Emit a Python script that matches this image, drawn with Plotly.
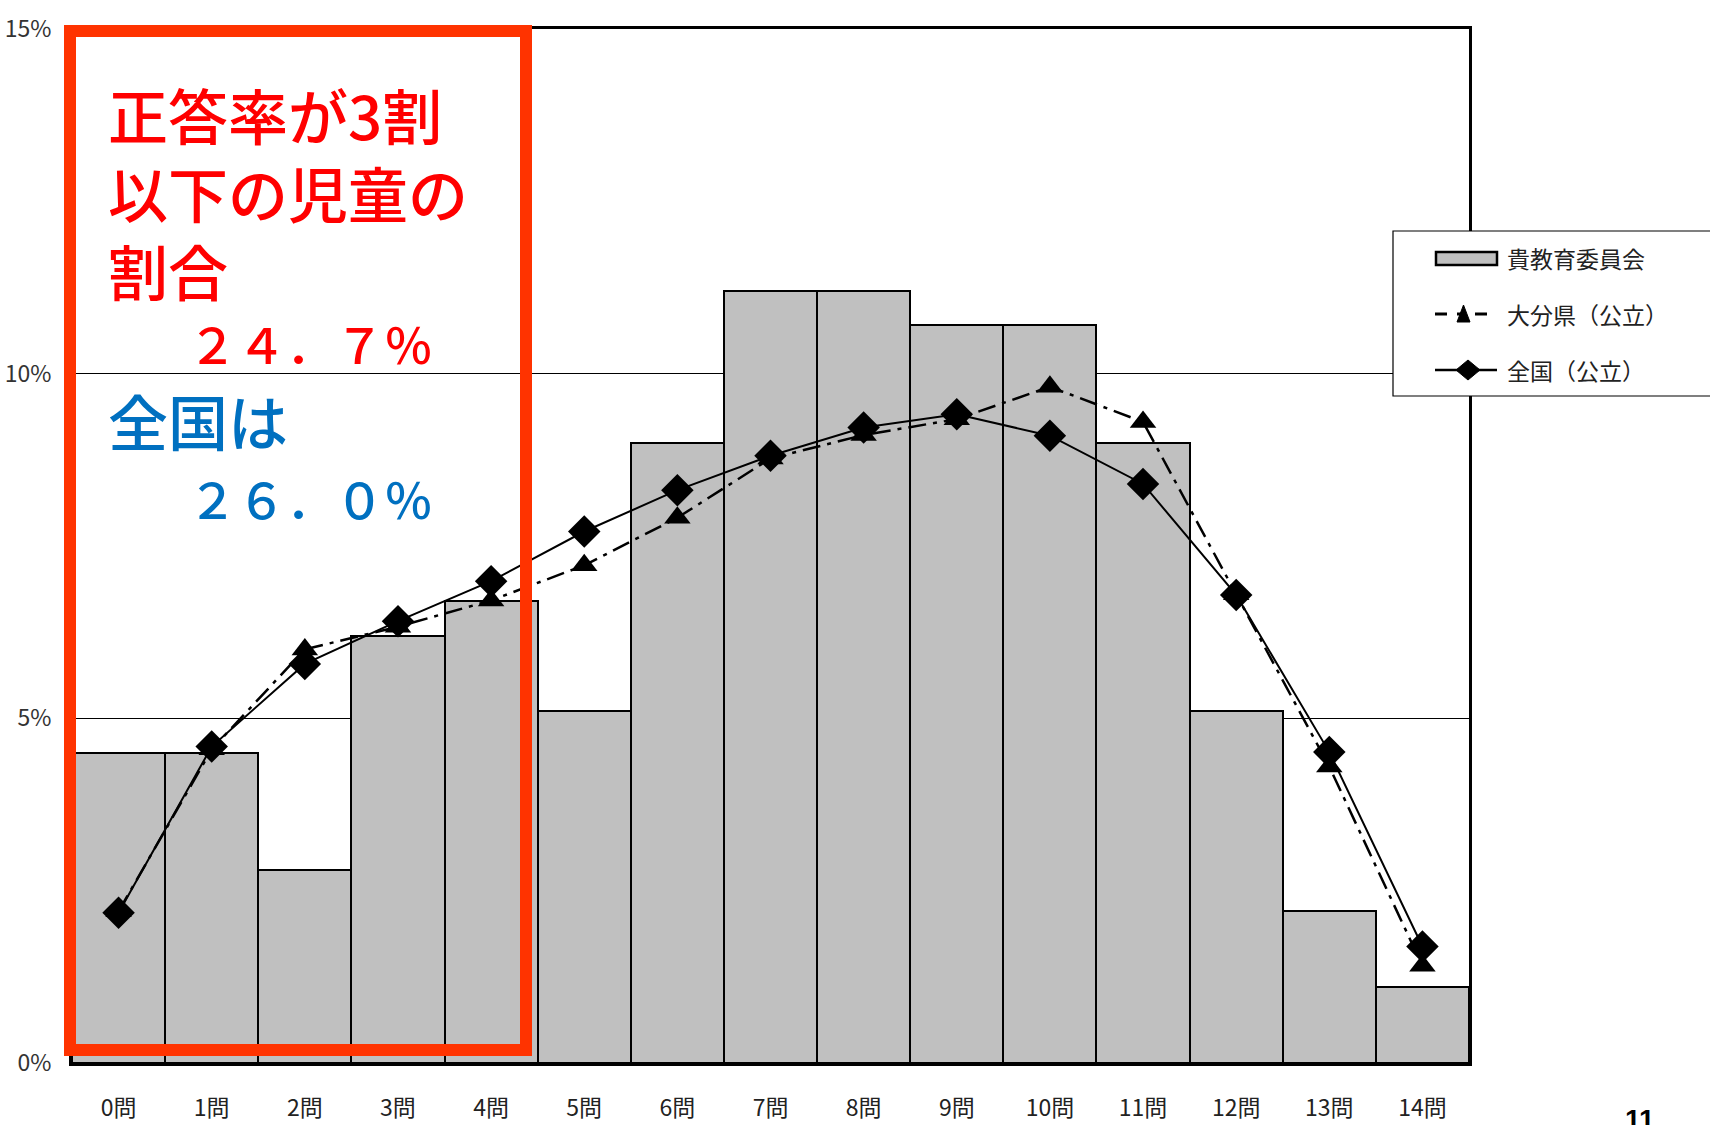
from plotly import graph_objects as go

# figure / plot-area geometry in pixels
W, H = 1710, 1125
L, R, T, B = 72, 1469, 29, 1063


def px_x(x):
    return (x - L) / (R - L)


def px_y(y):
    return (B - y) / (B - T)


categories = [f'{i}問' for i in range(15)]
board = [4.5, 4.5, 2.8, 6.2, 6.7, 5.1, 9.0, 11.2, 11.2, 10.7, 10.7, 9.0, 5.1, 2.2, 1.1]
oita = [2.2, 4.55, 6.0, 6.33, 6.71, 7.22, 7.91, 8.77, 9.11, 9.34, 9.81, 9.3, 6.8, 4.3, 1.41]
national = [2.18, 4.59, 5.79, 6.41, 6.99, 7.71, 8.31, 8.81, 9.22, 9.41, 9.1, 8.4, 6.79, 4.51, 1.69]

series_names = ['貴教育委員会', '大分県（公立）', '全国（公立）']

y_ticks = [0, 5, 10, 15]
y_tick_labels = ['0%', '5%', '10%', '15%']

note_red = ['正答率が3割', '以下の児童の', '割合']
note_red_value = '２４．７％'
note_blue = '全国は'
note_blue_value = '２６．０％'

BAR_COLOR = '#C0C0C0'
RED_BOX = '#FF3300'
RED_TEXT = '#FF0000'
BLUE_TEXT = '#0070C0'
FONT = 'Noto Sans CJK JP'
OITA_DASH = '18px,7px,4px,7px'

fig = go.Figure()

fig.add_trace(go.Bar(x=categories, y=board, name=series_names[0],
                     marker=dict(color=BAR_COLOR, line=dict(color='black', width=2))))
fig.add_trace(go.Scatter(x=categories, y=oita, name=series_names[1], mode='lines+markers',
                         line=dict(color='black', width=2.5, dash=OITA_DASH),
                         marker=dict(symbol='triangle-up', size=23, color='black')))
fig.add_trace(go.Scatter(x=categories, y=national, name=series_names[2], mode='lines+markers',
                         line=dict(color='black', width=2),
                         marker=dict(symbol='diamond', size=25, color='black')))

# white area behind the note text, then the red frame
fig.add_shape(type='rect', xref='paper', yref='paper', layer='between',
              x0=px_x(88), x1=px_x(512), y0=px_y(535), y1=px_y(60),
              line=dict(width=0), fillcolor='white')
fig.add_shape(type='rect', xref='paper', yref='paper', layer='above',
              x0=px_x(70), x1=px_x(526), y0=px_y(1050), y1=px_y(31),
              line=dict(color=RED_BOX, width=12))

fig.add_annotation(text='<br>'.join(note_red), xref='paper', yref='paper',
                   x=px_x(106), y=px_y(191), xanchor='left', yanchor='middle',
                   align='left', showarrow=False,
                   font=dict(family=FONT, size=60, color=RED_TEXT, weight=500))
fig.add_annotation(text=note_red_value, xref='paper', yref='paper', x=px_x(186), y=px_y(342),
                   xanchor='left', yanchor='middle', showarrow=False,
                   font=dict(family=FONT, size=49, color=RED_TEXT, weight=500))
fig.add_annotation(text=note_blue, xref='paper', yref='paper', x=px_x(106), y=px_y(420),
                   xanchor='left', yanchor='middle', showarrow=False,
                   font=dict(family=FONT, size=60, color=BLUE_TEXT, weight=500))
fig.add_annotation(text=note_blue_value, xref='paper', yref='paper', x=px_x(186), y=px_y(498),
                   xanchor='left', yanchor='middle', showarrow=False,
                   font=dict(family=FONT, size=49, color=BLUE_TEXT, weight=500))

# hand-drawn legend box (runs off the right edge like the original)
fig.add_shape(type='rect', xref='paper', yref='paper', layer='above',
              x0=px_x(1393), x1=px_x(1730), y0=px_y(396), y1=px_y(231),
              line=dict(color='black', width=1.2), fillcolor='white')
fig.add_shape(type='rect', xref='paper', yref='paper', layer='above',
              x0=px_x(1436), x1=px_x(1497), y0=px_y(265), y1=px_y(252),
              line=dict(color='black', width=2.5), fillcolor=BAR_COLOR)
fig.add_shape(type='line', xref='paper', yref='paper', layer='above',
              x0=px_x(1435), x1=px_x(1497), y0=px_y(314), y1=px_y(314),
              line=dict(color='black', width=3, dash='12px,10px,8px,10px'))
fig.add_shape(type='path', xref='paper', yref='paper', layer='above',
              path=f'M {px_x(1457)},{px_y(322)} L {px_x(1470)},{px_y(322)} L {px_x(1463.5)},{px_y(305)} Z',
              line=dict(color='black', width=1), fillcolor='black')
fig.add_shape(type='line', xref='paper', yref='paper', layer='above',
              x0=px_x(1435), x1=px_x(1497), y0=px_y(370), y1=px_y(370),
              line=dict(color='black', width=2.5))
fig.add_shape(type='path', xref='paper', yref='paper', layer='above',
              path=(f'M {px_x(1456)},{px_y(370)} L {px_x(1468)},{px_y(360)} '
                    f'L {px_x(1480)},{px_y(370)} L {px_x(1468)},{px_y(380)} Z'),
              line=dict(color='black', width=1), fillcolor='black')
for name, y in zip(series_names, [258, 314, 370]):
    fig.add_annotation(text=name, xref='paper', yref='paper', x=px_x(1505), y=px_y(y),
                       xanchor='left', yanchor='middle', showarrow=False,
                       font=dict(family=FONT, size=23, color='#222'))

# page number, cut off at the bottom edge
fig.add_annotation(text='<b>11</b>', xref='paper', yref='paper', x=px_x(1640), y=px_y(1102),
                   xanchor='center', yanchor='top', showarrow=False,
                   font=dict(family='Liberation Sans', size=28, color='black'))

fig.update_layout(
    width=W, height=H,
    margin=dict(l=L, r=W - R, t=T, b=H - B, autoexpand=False),
    paper_bgcolor='white', plot_bgcolor='white',
    bargap=0,
    showlegend=False,
    font=dict(family=FONT, color='#222'),
)
fig.update_xaxes(range=[-0.5, 14.5], showline=True, linecolor='black', linewidth=3, mirror=True,
                 showgrid=False, ticks='', ticklabelstandoff=22, automargin=False,
                 tickfont=dict(family=FONT, size=23, color='#222'))
fig.update_yaxes(range=[0, 15], tickvals=y_ticks, ticktext=y_tick_labels,
                 showline=True, linecolor='black', linewidth=3, mirror=True,
                 showgrid=True, gridcolor='black', gridwidth=1, zeroline=False,
                 ticks='', ticklabelstandoff=13, automargin=False,
                 tickfont=dict(family=FONT, size=23, color='#333'))

fig.write_html('out.html', config={'displayModeBar': False},
               post_script="document.body.style.margin='0';")
